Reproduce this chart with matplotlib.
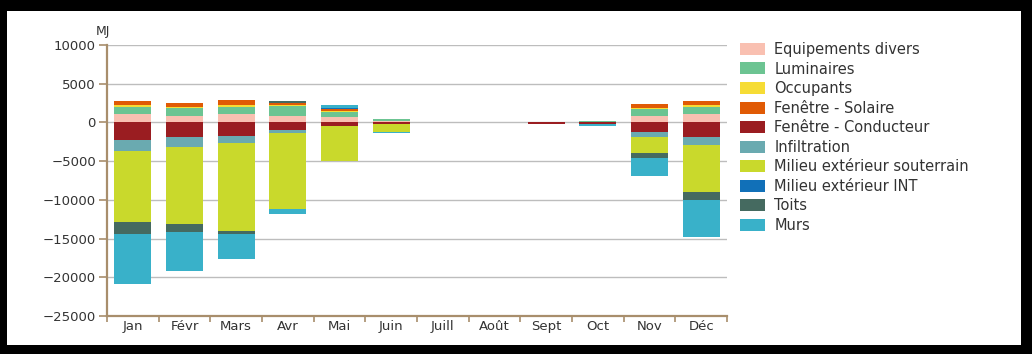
import matplotlib
matplotlib.use("Agg")
import matplotlib.pyplot as plt
from matplotlib.patches import Rectangle, Patch
import numpy as np

plt.rcParams['font.family'] = ['DejaVu Sans']

months = ['Jan', 'Févr', 'Mars', 'Avr', 'Mai', 'Juin', 'Juill', 'Août',
          'Sept', 'Oct', 'Nov', 'Déc']

# Monthly heat balance components (MJ)
equipements = [1050, 850, 1070, 870, 650, 200, 0, 0, 0, 0, 810, 1030]
luminaires = [1000, 950, 950, 1200, 650, 300, 0, 0, 0, 200, 870, 980]
occupants = [150, 200, 200, 220, 150, 0, 0, 0, 0, 0, 130, 220]
fen_solaire = [550, 570, 650, 220, 250, 0, 0, 0, 0, 0, 520, 520]
fen_conducteur = [-2330, -1940, -1720, -1000, -440, -260, 0, 0, -250, -220, -1290, -1860]
infiltration = [-1380, -1290, -900, -320, 0, 0, 0, 0, 0, 0, -570, -1070]
souterrain = [-9210, -9950, -11370, -9880, -4520, -950, 0, 0, 0, 0, -2070, -6030]
ext_int = [0, 0, 0, 0, 130, 0, 0, 0, 0, 0, 0, 0]
toits = [-1510, -1030, -430, 300, 0, 0, 0, 0, 0, 0, -720, -1070]
murs = [-6410, -5000, -3230, -690, 390, -130, 0, 0, 0, -220, -2290, -4740]

series_labels = ['Equipements divers', 'Luminaires', 'Occupants',
                 'Fenêtre - Solaire', 'Fenêtre - Conducteur', 'Infiltration',
                 'Milieu extérieur souterrain', 'Milieu extérieur INT',
                 'Toits', 'Murs']
series_values = [equipements, luminaires, occupants, fen_solaire,
                 fen_conducteur, infiltration, souterrain, ext_int, toits, murs]
series_colors = ['#f9c0b1', '#6cc492', '#f6dc35', '#e05a05', '#9a1d21',
                 '#6aaab0', '#c9d92c', '#1170b8', '#456a60', '#39b1c9']

W, H = 1032, 354
fig = plt.figure(figsize=(W / 100, H / 100), dpi=100, facecolor='black')
fig.patches.append(Rectangle((7 / W, 9 / H), (1021 - 7) / W, (345 - 11) / H,
                             transform=fig.transFigure, facecolor='white',
                             edgecolor='none', zorder=-10))

ax = fig.add_axes([107 / W, (H - 316) / H, 620 / W, 271 / H])
ax.set_facecolor('none')

x = np.arange(len(months))
pos_bottom = np.zeros(len(months))
neg_bottom = np.zeros(len(months))
for vals, color in zip(series_values, series_colors):
    v = np.array(vals, dtype=float)
    bottom = np.where(v >= 0, pos_bottom, neg_bottom)
    ax.bar(x, v, width=0.72, bottom=bottom, color=color, edgecolor='none',
           zorder=3)
    pos_bottom += np.where(v > 0, v, 0)
    neg_bottom += np.where(v < 0, v, 0)

spine_col = '#a88e6c'
ax.set_ylim(-25000, 10000)
ax.set_xlim(-0.5, len(months) - 0.5)
ax.set_yticks(np.arange(-25000, 10001, 5000))
ax.yaxis.grid(True, color='#bdbdbd', linewidth=1.0, zorder=0)
ax.set_axisbelow(True)

for s in ['top', 'right']:
    ax.spines[s].set_visible(False)
for s in ['left', 'bottom']:
    ax.spines[s].set_color(spine_col)
    ax.spines[s].set_linewidth(1.6)

ax.tick_params(axis='y', colors=spine_col, length=6, width=1.2,
               labelcolor='#333333', labelsize=9.5, pad=2)
ax.set_xticks(np.arange(len(months) + 1) - 0.5)
ax.set_xticklabels([])
ax.set_xticks(x, minor=True)
ax.set_xticklabels(months, minor=True)
ax.tick_params(axis='x', which='major', colors=spine_col, length=4, width=1.2)
ax.tick_params(axis='x', which='minor', length=0, labelsize=9.5,
               labelcolor='#333333', pad=3)

fig.text(103 / W, 1 - 31 / H, 'MJ', fontsize=9, color='#333333',
         ha='center', va='center')

handles = [Patch(facecolor=c, edgecolor='none') for c in series_colors]
ax.legend(handles, series_labels, loc='upper left',
          bbox_to_anchor=(740 / W, 1 - 42 / H),
          bbox_transform=fig.transFigure, frameon=False, fontsize=10.5,
          handlelength=1.71, handleheight=0.89, handletextpad=0.65,
          labelspacing=0.31, borderpad=0, borderaxespad=0,
          labelcolor='#333333')

fig.savefig('out.png', dpi=100, facecolor=fig.get_facecolor())
